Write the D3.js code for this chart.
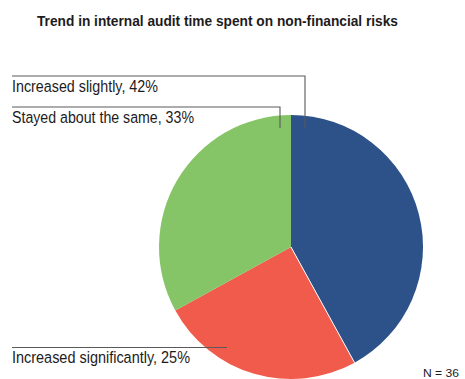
<!DOCTYPE html>
<html>
<head>
<meta charset="utf-8">
<script src="https://cdn.jsdelivr.net/npm/d3@7"></script>
<style>
  html, body { margin: 0; padding: 0; background: #fff; }
  svg { display: block; }
  .narrow { font-family: "Liberation Sans Narrow", "Arial Narrow", "Liberation Sans", Arial, sans-serif; }
</style>
</head>
<body>
<div id="chart"></div>
<script>
// Survey responses, in drawing order (clockwise from 12 o'clock)
const categories = ["Increased slightly", "Increased significantly", "Stayed about the same"];
const shares = [42, 25, 33];
const colors = ["#2d5189", "#f15b4b", "#85c568"];
const title = "Trend in internal audit time spent on non-financial risks";
const note = "N = 36";

const W = 465, H = 379;
const cx = 291, cy = 247, r = 132;

const svg = d3.select("#chart").append("svg")
  .attr("width", W).attr("height", H);

// Title
svg.append("text")
  .attr("class", "narrow")
  .attr("x", 37).attr("y", 26)
  .attr("font-size", 15.5).attr("font-weight", "bold")
  .attr("fill", "#1e1b1c")
  .attr("textLength", 361).attr("lengthAdjust", "spacingAndGlyphs")
  .text(title);

// Pie
const pie = d3.pie().sort(null).value(d => d)(shares);
const arc = d3.arc().innerRadius(0).outerRadius(r);
const g = svg.append("g").attr("transform", `translate(${cx},${cy})`);
g.selectAll("path")
  .data(pie)
  .join("path")
  .attr("d", arc)
  .attr("fill", (d, i) => colors[i]);

// Thin white divider between the first two slices
const edge = pie[0].endAngle;
g.append("line")
  .attr("x1", 0).attr("y1", 0)
  .attr("x2", r * Math.sin(edge)).attr("y2", -r * Math.cos(edge))
  .attr("stroke", "#fff").attr("stroke-width", 1);

// Callout layout: label baseline, leader line row, and where the leader ends
const callouts = [
  { i: 0, tx: 12, ty: 92, len: 146, lineY: 76, endX: 305, endY: 128 },
  { i: 2, tx: 12, ty: 122.5, len: 182, lineY: 107, endX: 280, endY: 128 },
  { i: 1, tx: 12, ty: 362.5, len: 178, lineY: 347.5, endX: 227, endY: null }
];

callouts.forEach(c => {
  const pts = [[12, c.lineY], [c.endX, c.lineY]];
  if (c.endY !== null) pts.push([c.endX, c.endY]);
  svg.append("path")
    .attr("d", d3.line()(pts))
    .attr("fill", "none")
    .attr("stroke", "#5a5a5a")
    .attr("stroke-width", 1.1);
  svg.append("text")
    .attr("class", "narrow")
    .attr("x", c.tx).attr("y", c.ty)
    .attr("font-size", 16.3)
    .attr("fill", "#1e1b1c")
    .attr("textLength", c.len).attr("lengthAdjust", "spacingAndGlyphs")
    .text(`${categories[c.i]}, ${shares[c.i]}%`);
});

// Sample size note
svg.append("text")
  .attr("class", "narrow")
  .attr("x", 423).attr("y", 377)
  .attr("font-size", 11.8)
  .attr("fill", "#1e1b1c")
  .attr("textLength", 36).attr("lengthAdjust", "spacingAndGlyphs")
  .text(note);
</script>
</body>
</html>
